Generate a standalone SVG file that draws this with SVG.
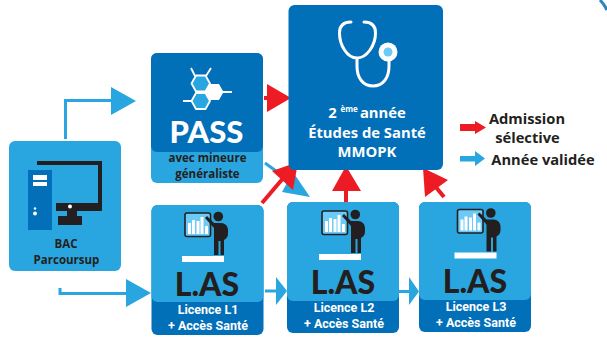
<svg xmlns="http://www.w3.org/2000/svg" width="607" height="337" viewBox="0 0 607 337">
<style>
text{font-family:"Open Sans","Noto Sans","Liberation Sans",sans-serif;font-weight:700;text-anchor:middle}
.lt{fill:#29a6df}.dk{fill:#026fb9}.red{fill:#ed1c24}.k{fill:#231f20}.w{fill:#fff}
.sm{font-size:11.5px}
.lic{font-family:Roboto,"Liberation Sans",sans-serif;font-size:12.500px;fill:#fff}
.tt{font-size:14.800px;fill:#fff}
.lg{font-size:14.700px;fill:#231f20}
.las{font-family:Lato,"Liberation Sans",sans-serif;font-weight:900;font-size:32px;fill:#231f20}
.pass{font-family:Lato,"Liberation Sans",sans-serif;font-weight:900;font-size:31px;fill:#fff}
.bl{fill:none;stroke:#29a6df;stroke-width:3}
.rl{fill:none;stroke:#ed1c24;stroke-width:4}
</style>
<defs>
<g id="presenter">
<rect x="185" y="213" width="25.500" height="23.500" rx="2" fill="#6ccbf6" stroke="#231f20" stroke-width="1.600"/>
<path class="w" d="M188 223h3v11h-3zM192 220h3v14h-3zM196.500 221h3v13h-3zM200.500 217h3v17h-3zM205 226h3v8h-3z"/>
<circle class="k" cx="218.300" cy="216.500" r="4.800"/>
<path class="k" d="M205 218l2-2 7 7h7c4 0 7 3 7 7v4c0 3-2 5-4 6v15h-3.500v-14h-2v14H214v-27z"/>
<rect class="w" x="182" y="256" width="42" height="6"/>
</g>
</defs>
<path d="M600 0C603 3 605 6 607 10" fill="none" stroke="#2f86b8" stroke-width="3"/>
<g id="connectors">
<path class="bl" d="M65.500 139V100.500H112"/><path class="lt" d="M111 87L136 101L111 115z"/>
<path class="bl" d="M60 288V293.500H127"/><path class="lt" d="M126 279L151 293L126 307z"/>
<path class="bl" d="M265 291H277"/><path class="lt" d="M276 277L287 291L276 305z"/>
<path class="bl" d="M399 291.500H410"/><path class="lt" d="M409 277L419 291.500L409 305z"/>
<path class="bl" d="M265 163L287 179"/><path class="lt" d="M293 172L310 197L282 192z"/>
<path class="rl" d="M264 98H270"/><path class="red" d="M267 84L291 98L267 112z"/>
<path class="rl" d="M262 203L285 176"/><path class="red" d="M298 162L293 190L272 171z"/>
<path class="rl" d="M346 202V190"/><path class="red" d="M346 166L361 191H332z"/>
<path class="rl" d="M444 197L435 186"/><path class="red" d="M423 168L448 180L425 197z"/>
<path class="red" d="M460 124H475V121L486 127.500L475 134V131H460z"/>
<path class="lt" d="M460 156H475V151L485 158.500L475 166V161.500H460z"/>
</g>
<g id="node-bac">
<rect class="lt" x="9" y="141" width="112" height="130" rx="6"/>
<path class="k" d="M37 161H102V211H56V203H98V165H37z"/>
<path class="k" d="M67 211H77V216H82V225H58V216H67z"/>
<circle class="w" cx="70" cy="206.500" r="2"/>
<rect class="dk" x="28" y="170" width="24" height="60"/>
<rect class="w" x="33" y="175" width="14" height="5"/><rect class="w" x="33" y="182" width="14" height="4"/>
<circle class="w" cx="35" cy="208.500" r="1.200"/><circle class="w" cx="35" cy="213.500" r="2"/>
<text class="sm k" x="66" y="248">BAC</text>
<text class="sm k" x="66.500" y="264">Parcoursup</text>
</g>
<g id="node-pass">
<rect class="lt" x="151" y="53" width="112" height="130" rx="6"/>
<path class="dk" d="M157 53H257a6 6 0 0 1 6 6V146a6 6 0 0 1-6 6H157a6 6 0 0 1-6-6V59a6 6 0 0 1 6-6z"/>
<path d="M191 68L195 76M211 68L206 76M183 101H192M223 92H232" stroke="#fff" stroke-width="1.800" fill="none"/>
<path class="lt" d="M191.500 83.500L196 75.500H205.500L210 83.500L205.500 91.500H196zM191.500 101L196 93H205.500L210 101L205.500 109H196z" stroke="#fff" stroke-width="1.800"/>
<path class="w" d="M205 92L209.500 84H219L223.500 92L219 100H209.500z"/>
<text class="pass" x="206.500" y="143">PASS</text>
<text class="sm k" x="207.500" y="162">avec mineure</text>
<text class="sm k" x="207.500" y="178">généraliste</text>
</g>
<g id="node-las1">
<rect class="dk" x="151.500" y="205" width="112" height="130" rx="6"/>
<path class="lt" d="M157.500 205H257.500a6 6 0 0 1 6 6V296a6 6 0 0 1-6 6H157.500a6 6 0 0 1-6-6V211a6 6 0 0 1 6-6z"/>
<use href="#presenter"/>
<text class="las" x="207" y="296">L.AS</text>
<text class="lic" x="208" y="314">Licence L1</text>
<text class="lic" x="208" y="330">+ Accès Santé</text>
</g>
<g id="node-las2">
<rect class="dk" x="287" y="202" width="112" height="131" rx="6"/>
<path class="lt" d="M293 202H393a6 6 0 0 1 6 6V295a6 6 0 0 1-6 6H293a6 6 0 0 1-6-6V208a6 6 0 0 1 6-6z"/>
<use href="#presenter" x="137" y="-2"/>
<text class="las" x="343" y="294">L.AS</text>
<text class="lic" x="344" y="312">Licence L2</text>
<text class="lic" x="344" y="328">+ Accès Santé</text>
</g>
<g id="node-las3">
<rect class="dk" x="419" y="202" width="112" height="130" rx="6"/>
<path class="lt" d="M425 202H525a6 6 0 0 1 6 6V294a6 6 0 0 1-6 6H425a6 6 0 0 1-6-6V208a6 6 0 0 1 6-6z"/>
<use href="#presenter" x="272.500" y="-3.500"/>
<text class="las" x="475" y="293">L.AS</text>
<text class="lic" x="476" y="311">Licence L3</text>
<text class="lic" x="476" y="327">+ Accès Santé</text>
</g>
<g id="node-sante">
<rect class="dk" x="288.500" y="5" width="154.500" height="165" rx="6"/>
<path d="M351 22C343 22 339.500 26 339.500 33C339.500 45 347 58 357 58C367 58 375.500 45 375.500 33C375.500 26 372 22 364 22M357 58V66C357 78 363 86 373 86C383 86 389 78 389 66V58" fill="none" stroke="#fff" stroke-width="3" stroke-linecap="round"/>
<circle class="w" cx="388" cy="52" r="9.500"/><circle cx="388" cy="52" r="4.500" fill="#6ccbf6"/>
<text class="tt" x="367" y="118"><tspan>2 </tspan><tspan font-size="8" dy="-6">ème </tspan><tspan dy="6">année</tspan></text>
<text class="tt" x="367" y="138">Études de Santé</text>
<text class="tt" x="367" y="157">MMOPK</text>
</g>
<g id="legend">
<text class="lg" x="527" y="124">Admission</text>
<text class="lg" x="527.500" y="143">sélective</text>
<text class="lg" x="543" y="165">Année validée</text>
</g>
</svg>
